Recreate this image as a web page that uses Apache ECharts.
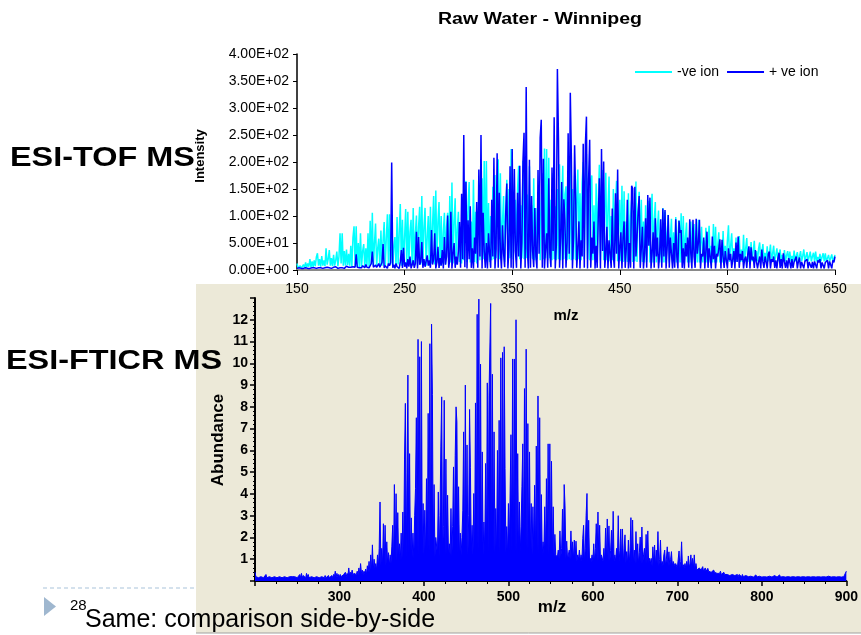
<!DOCTYPE html>
<html>
<head>
<meta charset="utf-8">
<script src="https://cdn.jsdelivr.net/npm/echarts/dist/echarts.min.js"></script>
<style>
html,body{margin:0;padding:0;background:#fff;}
#c{width:861px;height:635px;}
</style>
</head>
<body>
<div id="c"></div>
<script>
// ---------- DATA ----------
// Top chart (ESI-TOF MS): intensity sampled every 1 m/z from 150 to 650
const topMzStart = 150;
const topXTicks = [150, 250, 350, 450, 550, 650];
const topYTicks = [0, 50, 100, 150, 200, 250, 300, 350, 400];
const seriesNames = ['-ve ion', '+ ve ion'];

const negIon = [
12,4,3,8,3,5,10,4,14,5,
12,6,20,5,16,6,18,7,24,31,
8,20,6,26,8,18,7,40,10,20,
37,8,22,7,28,8,18,34,7,25,
68,12,68,8,35,8,38,9,30,8,
45,6,60,81,8,81,5,50,4,68,
6,35,48,5,40,8,68,6,91,10,
106,8,50,86,6,40,58,5,73,8,
55,89,6,60,103,8,103,10,70,5,
45,61,6,98,10,70,122,8,93,10,
60,113,8,108,12,70,93,8,115,12,
65,101,8,80,117,10,137,12,80,115,
8,60,100,8,117,12,85,137,10,147,
14,90,126,8,100,12,70,106,10,80,
106,12,137,14,162,12,90,133,10,75,
108,15,80,12,135,18,110,165,15,120,
163,14,90,18,167,15,108,12,80,126,
18,110,170,20,202,22,202,18,124,15,
100,18,154,20,176,22,120,205,20,179,
18,90,137,15,110,167,18,150,22,224,
224,20,100,130,18,150,193,20,120,22,
202,20,192,22,140,18,192,22,120,20,
170,18,115,20,100,152,18,130,179,20,
225,22,224,18,208,22,130,18,179,20,
118,18,150,20,196,18,120,193,20,140,
155,18,180,20,210,18,150,20,175,18,
130,186,20,142,18,160,200,20,150,215,
20,140,18,167,175,18,120,20,160,18,
130,195,18,150,185,18,120,180,18,110,
173,16,100,18,150,16,120,165,16,100,
130,16,156,15,146,16,90,15,142,16,
100,130,15,110,16,164,15,100,145,15,
130,15,90,14,120,15,80,128,14,100,
141,14,90,126,14,80,110,14,70,14,
115,14,108,14,70,102,14,60,95,14,
70,14,98,14,60,92,14,105,14,100,
14,60,88,14,55,14,90,14,50,85,
14,60,14,93,14,50,80,14,55,14,
78,14,50,82,14,45,14,85,14,80,
14,45,70,14,40,14,72,14,45,14,
55,83,15,45,68,15,40,15,60,15,
40,63,15,38,15,65,15,40,59,15,
35,16,52,16,35,54,16,35,16,40,
51,16,33,48,16,32,16,44,16,30,
47,16,30,45,16,28,40,16,28,38,
16,28,16,37,16,27,35,16,34,16,
26,16,36,16,26,33,16,25,35,16,
26,38,16,25,33,16,25,34,16,25,
32,16,34,16,24,16,30,16,24,31,
16,31,16,22,28,16,22,29,16,22,
28];

const posIon = [
3,3,4,3,3,4,3,3,4,3,
3,4,3,3,4,3,4,3,3,4,
4,3,4,5,3,4,4,3,5,4,
4,5,3,4,5,4,6,4,3,5,
4,6,4,5,3,5,7,4,5,4,
5,4,6,4,5,29,5,6,4,5,
4,8,5,4,10,5,6,4,5,12,
34,5,6,9,5,4,12,5,6,14,
48,4,8,10,3,12,8,14,199,4,
10,3,12,6,8,3,15,37,4,41,
6,14,3,20,6,25,3,10,18,4,
12,71,3,61,10,15,52,4,20,6,
3,27,8,18,4,74,10,20,68,3,
14,43,4,22,8,37,3,61,10,25,
101,4,20,108,3,30,50,4,25,10,
35,89,4,141,20,250,5,163,3,92,
20,118,4,40,3,60,30,126,4,186,
25,250,3,106,35,4,50,3,68,30,
4,130,25,208,3,40,216,4,143,35,
3,83,30,5,108,160,3,40,192,4,
224,3,187,35,4,143,25,193,3,50,
202,254,4,339,40,3,204,4,137,35,
5,115,25,3,185,30,245,278,4,206,
3,40,68,4,170,30,5,190,35,283,
3,45,372,245,4,60,163,3,131,92,
4,50,253,30,328,207,3,60,231,133,
4,40,90,3,55,25,234,4,231,284,
3,168,241,4,60,30,90,3,45,4,
100,170,3,224,35,201,4,30,80,3,
55,30,4,114,25,4,142,30,186,3,
40,70,3,60,90,4,40,130,3,50,
4,156,151,3,154,25,60,108,137,4,
40,80,3,30,96,4,139,45,134,3,
30,70,4,96,25,60,3,30,94,4,
114,25,111,3,40,102,4,60,30,3,
50,4,94,25,3,91,69,74,4,40,
3,50,25,60,4,94,30,3,93,25,
4,95,30,50,93,3,30,25,60,3,
35,71,4,40,25,3,62,20,45,3,
30,25,40,57,3,56,25,4,35,18,
3,40,18,30,4,20,35,3,51,15,
62,4,30,18,35,3,20,25,4,30,
44,3,42,18,25,4,37,15,3,15,
25,3,38,15,4,25,15,3,30,34,
3,20,15,25,4,18,3,22,32,4,
20,3,31,15,4,18,3,22,14,3,
20,4,15,18,25,3,16,23,3,15,
18,3,16,14,20,3,15,18,4,15,
3,16,15,3,18,14,20,3,14,15,
3,14,15,18,3,16,14,3,18,14,
25];

// Bottom chart (ESI-FTICR MS): abundance sampled every 1 m/z from 200 to 900
const botMzStart = 200;
const botXTicks = [300, 400, 500, 600, 700, 800, 900];
const botYTicks = [1,2,3,4,5,6,7,8,9,10,11,12];
const fticr = [
0.4,0.2,0.15,0.2,0.15,0.2,0.15,0.2,0.15,0.2,
0.15,0.2,0.15,0.3,0.15,0.2,0.15,0.2,0.15,0.2,
0.15,0.2,0.15,0.2,0.15,0.2,0.15,0.2,0.15,0.2,
0.15,0.2,0.15,0.2,0.15,0.2,0.15,0.2,0.15,0.2,
0.15,0.2,0.15,0.2,0.2,0.25,0.15,0.2,0.15,0.2,
0.15,0.2,0.15,0.3,0.15,0.35,0.15,0.25,0.2,0.3,
0.15,0.35,0.2,0.3,0.15,0.2,0.15,0.2,0.15,0.2,
0.15,0.2,0.15,0.2,0.15,0.25,0.15,0.2,0.15,0.2,
0.15,0.2,0.15,0.25,0.15,0.2,0.2,0.25,0.15,0.2,
0.2,0.25,0.15,0.3,0.2,0.45,0.2,0.35,0.2,0.3,
0.2,0.3,0.2,0.25,0.2,0.3,0.25,0.4,0.2,0.35,
0.25,0.6,0.25,0.4,0.3,0.5,0.25,0.35,0.3,0.4,
0.3,0.45,0.3,0.6,0.3,0.8,0.35,0.5,0.3,0.45,
0.35,0.55,0.3,0.7,0.4,0.9,0.4,1.2,0.5,1.66,
0.5,1.0,0.6,0.8,0.5,1.2,0.6,1.5,3.63,0.7,
1.5,0.7,2.63,0.8,2.56,0.7,1.8,0.8,1.3,0.7,
1.2,0.8,1.6,2.56,0.8,4.43,1.0,4.01,0.9,3.14,
1.0,1.71,0.9,2.2,1.0,3.17,1.0,5.6,8.16,1.0,
5.0,9.46,1.1,5.85,1.0,2.9,1.1,2.2,1.0,3.0,
4.24,7.5,1.2,11.1,1.1,10.3,1.2,11.0,1.1,3.56,
1.2,3.25,1.1,4.7,1.2,7.7,1.3,10.9,1.2,11.8,
8.57,1.2,4.43,1.1,2.0,1.95,1.2,4.09,1.1,3.0,
6.16,8.46,1.2,2.5,8.3,1.2,5.6,1.1,3.94,1.2,
1.71,1.2,3.33,1.1,2.5,5.24,1.2,5.77,8.0,7.3,
1.2,4.33,1.1,2.2,1.2,2.0,3.25,6.85,1.2,9.0,
1.3,6.25,1.2,3.0,7.88,5.2,1.3,2.56,1.2,4.02,
1.3,8.18,1.2,12.25,1.3,12.95,1.2,9.96,1.3,5.93,
1.2,2.71,1.3,5.4,1.2,9.1,1.3,8.5,8.5,12.75,
1.3,9.5,1.2,6.85,1.3,3.33,1.2,6.0,1.3,7.38,
1.2,10.25,1.3,10.5,1.2,10.76,5.17,1.3,2.5,1.2,
3.56,1.3,4.0,6.72,1.2,10.2,1.3,10.2,1.2,12.0,
1.3,5.85,1.2,3.63,1.3,2.5,4.33,6.3,1.3,8.84,
1.2,10.65,1.3,7.23,1.2,5.93,1.3,3.56,1.2,3.41,
1.3,4.4,1.2,6.2,1.3,8.5,1.2,7.5,1.3,3.97,
1.2,1.8,1.3,3.41,1.2,4.7,1.3,6.3,1.2,6.3,
1.3,5.5,1.2,3.41,1.1,2.14,1.2,1.2,1.1,1.42,
1.0,2.3,1.1,1.5,3.3,1.1,4.43,3.45,1.0,1.83,
1.0,1.2,1.42,1.0,2.3,1.0,1.8,1.0,1.88,1.0,
1.83,0.9,1.2,1.0,1.42,0.9,1.2,0.9,1.95,2.56,
0.9,1.5,3.02,4.02,0.9,2.79,0.9,1.04,0.9,1.2,
0.9,1.71,0.9,1.5,2.63,0.9,3.17,0.9,2.56,0.9,
1.2,1.2,0.9,1.5,0.9,2.43,0.9,2.85,0.9,2.53,
0.9,1.4,2.33,0.9,3.2,0.9,1.2,0.9,1.5,0.9,
3.0,0.9,1.4,2.39,0.9,2.39,0.8,1.5,2.12,0.8,
1.35,0.8,1.88,0.8,1.4,2.91,0.8,2.8,0.8,1.42,
0.8,2.27,0.8,1.71,0.8,1.3,2.02,0.8,2.48,0.8,
1.2,1.5,0.8,2.14,0.8,2.3,0.8,1.04,0.8,1.04,
0.7,1.57,0.8,1.65,0.7,1.42,0.8,2.27,0.7,1.0,
1.88,0.7,0.9,0.7,1.2,1.42,0.7,1.0,1.57,0.7,
1.34,0.7,1.0,1.35,0.7,0.9,0.9,0.7,0.8,0.75,
0.6,1.0,1.38,0.6,0.9,1.8,0.6,0.75,0.6,0.8,
0.6,0.9,0.6,1.15,0.6,0.8,1.2,0.6,1.04,0.6,
1.2,0.5,0.8,0.5,0.43,0.5,0.6,0.66,0.5,0.55,
0.66,0.45,0.5,0.6,0.45,0.5,0.58,0.45,0.5,0.5,
0.4,0.45,0.35,0.5,0.4,0.35,0.43,0.35,0.4,0.3,
0.35,0.45,0.3,0.35,0.3,0.4,0.3,0.35,0.3,0.3,
0.25,0.35,0.25,0.3,0.25,0.3,0.25,0.35,0.25,0.3,
0.25,0.3,0.2,0.3,0.25,0.28,0.2,0.3,0.2,0.25,
0.2,0.25,0.2,0.3,0.2,0.25,0.2,0.22,0.2,0.25,
0.18,0.22,0.18,0.28,0.18,0.2,0.18,0.22,0.18,0.2,
0.18,0.22,0.18,0.2,0.18,0.25,0.18,0.2,0.18,0.22,
0.18,0.2,0.18,0.2,0.18,0.25,0.18,0.2,0.18,0.2,
0.18,0.28,0.18,0.2,0.18,0.2,0.18,0.2,0.18,0.2,
0.18,0.2,0.18,0.2,0.18,0.22,0.18,0.2,0.18,0.2,
0.18,0.2,0.18,0.2,0.18,0.2,0.18,0.22,0.18,0.2,
0.18,0.2,0.18,0.22,0.18,0.2,0.18,0.2,0.18,0.2,
0.18,0.2,0.18,0.2,0.18,0.25,0.18,0.2,0.18,0.2,
0.18,0.2,0.18,0.2,0.18,0.2,0.18,0.2,0.18,0.22,
0.18,0.2,0.18,0.2,0.18,0.2,0.18,0.22,0.18,0.2,
0.18,0.2,0.18,0.2,0.18,0.2,0.18,0.2,0.18,0.25,
0.45];

// ---------- CHART ----------
const toPairs = (start, arr) => arr.map((v, i) => [start + i, v]);
const sci = v => {
  if (v === 0) return '0.00E+00';
  const e = Math.floor(Math.log10(v) + 1e-9);
  const m = v / Math.pow(10, e);
  return m.toFixed(2) + 'E+' + String(e).padStart(2, '0');
};
const F = '"Liberation Sans", Arial, sans-serif';

const chart = echarts.init(document.getElementById('c'), null, {renderer: 'canvas'});
chart.setOption({
  animation: false,
  backgroundColor: '#ffffff',
  legend: {
    data: seriesNames,
    left: 630, top: 60,
    icon: 'rect', itemWidth: 37, itemHeight: 2, itemGap: 8,
    textStyle: {fontFamily: F, fontSize: 14, color: '#000'}
  },
  grid: [
    {left: 297, top: 54, width: 538, height: 216},
    {left: 255, top: 298, width: 595, height: 283}
  ],
  xAxis: [
    {
      gridIndex: 0, type: 'value', min: topXTicks[0], max: topXTicks[topXTicks.length - 1], interval: 100,
      axisLine: {show: true, onZero: false, lineStyle: {color: '#8a8a8a', width: 2}},
      axisTick: {show: true, length: 5, lineStyle: {color: '#000'}},
      axisLabel: {fontFamily: F, fontSize: 14, color: '#000', margin: 12},
      splitLine: {show: false}
    },
    {
      gridIndex: 1, type: 'value', min: botMzStart, max: botXTicks[botXTicks.length - 1], interval: 100,
      axisLine: {show: true, onZero: false, lineStyle: {color: '#000', width: 2}},
      axisTick: {show: true, length: 5, lineStyle: {color: '#000', width: 1.5}},
      minorTick: {show: true, splitNumber: 4, length: 3, lineStyle: {color: '#000'}},
      axisLabel: {fontFamily: F, fontSize: 14, fontWeight: 'bold', color: '#000', margin: 9,
        formatter: v => botXTicks.indexOf(v) >= 0 ? String(v) : ''},
      splitLine: {show: false}
    }
  ],
  yAxis: [
    {
      gridIndex: 0, type: 'value', min: topYTicks[0], max: topYTicks[topYTicks.length - 1], interval: 50,
      axisLine: {show: true, lineStyle: {color: '#000', width: 1.5}},
      axisTick: {show: true, length: 4, lineStyle: {color: '#000'}},
      axisLabel: {fontFamily: F, fontSize: 14, color: '#000', margin: 8, formatter: sci},
      splitLine: {show: false}
    },
    {
      gridIndex: 1, type: 'value', min: 0, max: 13, interval: 1,
      axisLine: {show: true, lineStyle: {color: '#000', width: 2}},
      axisTick: {show: true, length: 5, lineStyle: {color: '#000', width: 1.5}},
      minorTick: {show: true, splitNumber: 5, length: 2, lineStyle: {color: '#000'}},
      axisLabel: {fontFamily: F, fontSize: 14, fontWeight: 'bold', color: '#000', margin: 7,
        formatter: v => botYTicks.indexOf(v) >= 0 ? String(v) : ''},
      splitLine: {show: false}
    }
  ],
  series: [
    {
      name: seriesNames[0], type: 'line', xAxisIndex: 0, yAxisIndex: 0,
      data: toPairs(topMzStart, negIon), symbol: 'none', showSymbol: false,
      lineStyle: {color: '#00FFFF', width: 1.5}, itemStyle: {color: '#00FFFF'}, silent: true, z: 2
    },
    {
      name: seriesNames[1], type: 'line', xAxisIndex: 0, yAxisIndex: 0,
      data: toPairs(topMzStart, posIon), symbol: 'none', showSymbol: false,
      lineStyle: {color: '#0000FF', width: 1.5}, itemStyle: {color: '#0000FF'}, silent: true, z: 3
    },
    {
      name: 'FTICR', type: 'line', xAxisIndex: 1, yAxisIndex: 1,
      data: toPairs(botMzStart, fticr), symbol: 'none', showSymbol: false,
      lineStyle: {color: '#0000FF', width: 1}, itemStyle: {color: '#0000FF'},
      areaStyle: {color: '#0000FF', opacity: 1}, silent: true, z: 2
    }
  ],
  graphic: [
    {type: 'rect', z: -10, silent: true, shape: {x: 196, y: 284, width: 665, height: 349}, style: {fill: '#ECE9D8'}},
    {type: 'line', z: -9, silent: true, shape: {x1: 196, y1: 633, x2: 861, y2: 633}, style: {stroke: '#A0A0A0', lineWidth: 1}},
    {type: 'line', silent: true, shape: {x1: 43, y1: 588, x2: 196, y2: 588}, style: {stroke: '#A9C3DA', lineWidth: 1, lineDash: [4, 3]}},
    {type: 'polygon', silent: true, shape: {points: [[44, 597], [56, 606.5], [44, 616]]}, style: {fill: '#9FB7CF'}},
    {type: 'text', silent: true, x: 70, y: 606, style: {text: '28', font: '15px ' + F, fill: '#000', align: 'left', verticalAlign: 'middle'}},
    {type: 'text', silent: true, x: 85, y: 620, z: 20, style: {text: 'Same: comparison side-by-side', font: '25px ' + F, fill: '#000', align: 'left', verticalAlign: 'middle'}},
    {type: 'text', silent: true, x: 540, y: 20, scaleX: 1.22, style: {text: 'Raw Water - Winnipeg', font: 'bold 16px ' + F, fill: '#000', align: 'center', verticalAlign: 'middle'}},
    {type: 'text', silent: true, x: 200, y: 156, rotation: Math.PI / 2, style: {text: 'Intensity', font: 'bold 13px ' + F, fill: '#000', align: 'center', verticalAlign: 'middle'}},
    {type: 'text', silent: true, x: 566, y: 316, style: {text: 'm/z', font: 'bold 15px ' + F, fill: '#000', align: 'center', verticalAlign: 'middle'}},
    {type: 'text', silent: true, x: 10, y: 159, z: 20, scaleX: 1.2, style: {text: 'ESI-TOF MS', font: 'bold 27px ' + F, fill: '#000', align: 'left', verticalAlign: 'middle'}},
    {type: 'text', silent: true, x: 6, y: 362, z: 20, scaleX: 1.2, style: {text: 'ESI-FTICR MS', font: 'bold 27px ' + F, fill: '#000', align: 'left', verticalAlign: 'middle'}},
    {type: 'text', silent: true, x: 218, y: 440, rotation: Math.PI / 2, style: {text: 'Abundance', font: 'bold 17px ' + F, fill: '#000', align: 'center', verticalAlign: 'middle'}},
    {type: 'text', silent: true, x: 552, y: 607, z: 20, style: {text: 'm/z', font: 'bold 17px ' + F, fill: '#000', align: 'center', verticalAlign: 'middle'}}
  ]
});
</script>
</body>
</html>
